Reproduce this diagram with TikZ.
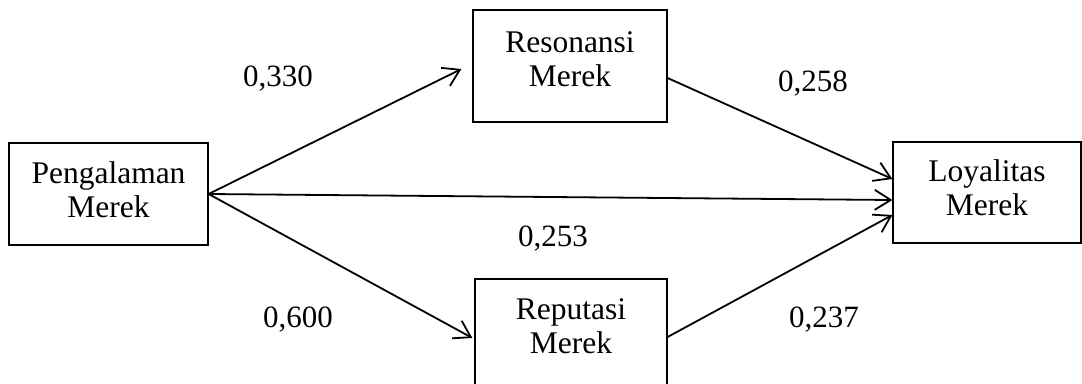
\documentclass[tikz,border=0pt]{standalone}
\usepackage{fontspec}
\setmainfont{Liberation Serif}
\usetikzlibrary{arrows.meta}
\tikzset{
  box/.style={draw, line width=1.2pt, inner sep=0pt},
  boxtext/.style={align=center, inner sep=0pt, anchor=north, font=\fontsize{31.5}{34}\selectfont},
  coef/.style={anchor=base west, inner sep=0pt, font=\fontsize{31}{33}\selectfont},
  link/.style={line width=1.8pt, -{Straight Barb[length=16pt,width=20pt,line width=1.8pt]}}
}
\begin{document}
\begin{tikzpicture}[x=1pt,y=-1pt]
\useasboundingbox (0,0) rectangle (1082,383);
% boxes
\node[box, minimum width=199pt, minimum height=102pt] (peng) at (108.5,194) {};
\node[box, minimum width=194pt, minimum height=112pt] (reson) at (570,66) {};
\node[box, minimum width=192pt, minimum height=112pt] (reput) at (571,335) {};
\node[box, minimum width=188pt, minimum height=101pt] (loyal) at (987,192.5) {};
% box texts
\node[boxtext] (tpeng) at (108.5,161.5) {Pengalaman\\Merek};
\node[boxtext] (treson) at (570,31.5) {Resonansi\\Merek};
\node[boxtext] (treput) at (571,298.5) {Reputasi\\Merek};
\node[boxtext] (tloyal) at (987,159.5) {Loyalitas\\Merek};
% connectors
\draw[link] (peng.east) -- ([xshift=-11pt,yshift=-3pt]reson.west);
\draw[link] (peng.east) -- ([yshift=-7.5pt]loyal.west);
\draw[link] (peng.east) -- ([xshift=-2pt,yshift=-3pt]reput.west);
\draw[link] ([yshift=-12pt]reson.east) -- ([yshift=13.5pt]loyal.west);
\draw[link] ([yshift=-2pt]reput.east) -- ([yshift=-22.5pt]loyal.west);
% coefficients
\node[coef] (c1) at (243,86) {0,330};
\node[coef] (c2) at (778,91) {0,258};
\node[coef] (c3) at (518,246) {0,253};
\node[coef] (c4) at (263,327) {0,600};
\node[coef] (c5) at (789,327) {0,237};
\end{tikzpicture}
\end{document}
